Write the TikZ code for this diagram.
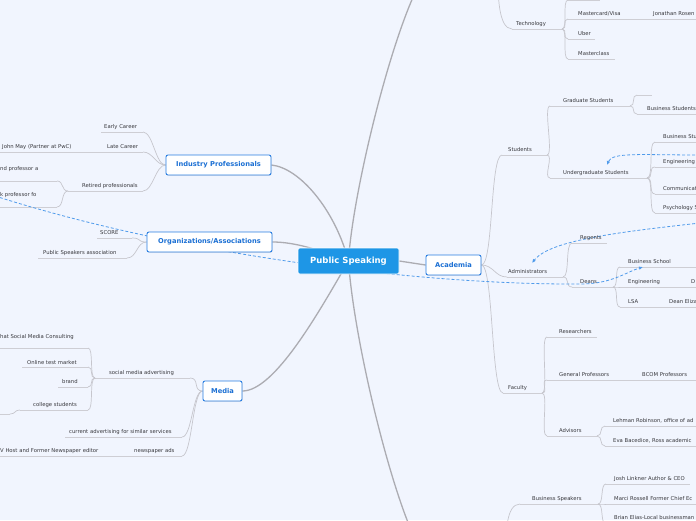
\documentclass[tikz,border=0pt]{standalone}
\usepackage{fontspec}
\setmainfont{DejaVu Sans}
\usetikzlibrary{arrows.meta,shadows}
\definecolor{bgc}{RGB}{241,245,254}
\definecolor{mainline}{RGB}{172,172,178}
\definecolor{subline}{RGB}{198,198,205}
\definecolor{leafline}{RGB}{206,206,212}
\definecolor{leaftext}{RGB}{55,55,60}
\definecolor{topicblue}{RGB}{28,112,212}
\definecolor{topicborder}{RGB}{40,125,225}
\definecolor{psblue}{RGB}{30,150,230}
\definecolor{dashblue}{RGB}{80,155,235}
\pgfdeclarelayer{back}
\pgfdeclarelayer{lines}
\pgfsetlayers{back,lines,main}
\tikzset{
  leaf/.style={anchor=base west, inner sep=0pt, text=leaftext, font=\fontsize{5.3}{6}\selectfont},
  topic/.style={draw=topicborder, fill=white, line width=0.9pt, rounded corners=2pt, text=topicblue,
    font=\fontsize{6.7}{8}\selectfont\bfseries, minimum height=20pt, inner sep=0pt,
    drop shadow={opacity=0.15, shadow xshift=0.6pt, shadow yshift=-0.8pt}},
  central/.style={draw=white, fill=psblue, line width=0.6pt, rounded corners=2pt, text=white,
    font=\fontsize{8.5}{10}\selectfont\bfseries, inner sep=0pt, minimum width=101pt, minimum height=26pt},
  ul/.style={draw=leafline, line width=0.6pt},
  br/.style={draw=subline, line width=0.7pt},
  trunk/.style={draw=mainline, line width=1.3pt},
  rel/.style={draw=dashblue, line width=0.8pt, dash pattern=on 3pt off 2pt, -{Latex[length=4pt,width=3.5pt]}},
}
% name, text x, baseline y, underline y, underline left, underline right, text
\newcommand\mmleaf[7]{%
  \node[leaf] (#1) at (#2,#3) {#7};
  \coordinate (#1-l) at (#5,#4);
  \coordinate (#1-r) at (#6,#4);}
\begin{document}
\begin{tikzpicture}[x=1pt,y=-1pt]
\useasboundingbox (0,0) rectangle (696,520);
\begin{pgfonlayer}{back}
  \fill[bgc] (0,0) rectangle (696,520);
\end{pgfonlayer}
\clip (0,0) rectangle (696,520);

% main topics
\node[central] (ps) at (348.5,261) {Public Speaking};
\node[topic, minimum width=55pt] (ac) at (453.5,265) {Academia};
\node[topic, minimum width=105pt] (ip) at (218.5,165) {Industry Professionals};
\node[topic, minimum width=125pt] (org) at (209.5,242) {Organizations/Associations};
\node[topic, minimum width=39pt] (med) at (222.5,391) {Media};

% right side leaves
\mmleaf{tech}{516}{25}{29}{512}{562}{Technology}
\coordinate (tz-l) at (568,0); \coordinate (tz-r) at (600,0);
\mmleaf{mc}{578}{15}{19}{568}{645}{Mastercard/Visa}
\mmleaf{jr}{653}{15}{19}{645}{700}{Jonathan Rosen}
\mmleaf{uber}{578}{35}{39}{568}{595}{Uber}
\mmleaf{mcl}{578}{55}{59}{568}{615}{Masterclass}
\mmleaf{stu}{508}{151}{155}{502}{547}{Students}
\mmleaf{gs}{563}{102}{106}{550}{630}{Graduate Students}
\coordinate (gsa-l) at (637,95); \coordinate (gsa-r) at (652,95);
\mmleaf{gsb}{647}{110}{114}{637}{700}{Business Students}
\mmleaf{ug}{563}{174}{178}{550}{647}{Undergraduate Students}
\mmleaf{uga}{663}{138}{142}{655}{700}{Business Stu}
\mmleaf{ugb}{663}{163}{167}{655}{700}{Engineering}
\mmleaf{ugc}{663}{190}{194}{655}{700}{Communicati}
\mmleaf{ugd}{663}{209}{213}{655}{700}{Psychology S}
\mmleaf{adm}{508}{273}{277}{507}{563}{Administrators}
\mmleaf{reg}{580}{239}{243}{572}{607}{Regents}
\mmleaf{dea}{580}{283}{287}{572}{613}{Deans}
\mmleaf{bsch}{628}{263}{267}{620}{700}{Business School}
\mmleaf{deng}{628}{283}{287}{620}{685}{Engineering}
\mmleaf{dd}{691}{283}{287}{685}{700}{D}
\mmleaf{lsa}{628}{303}{307}{620}{662}{LSA}
\mmleaf{de}{669}{303}{307}{662}{700}{Dean Eliza}
\mmleaf{fac}{508}{389}{393}{503}{542}{Faculty}
\mmleaf{res}{559}{333}{337}{547}{597}{Researchers}
\mmleaf{gp}{559}{376}{380}{547}{637}{General Professors}
\mmleaf{bcom}{642}{376}{380}{637}{700}{BCOM Professors}
\mmleaf{adv}{559}{432}{436}{547}{597}{Advisors}
\mmleaf{leh}{613}{422}{426}{605}{700}{Lehman Robinson, office of ad}
\mmleaf{eva}{613}{442}{446}{605}{700}{Eva Bacedice, Ross academic}
\mmleaf{bsp}{532}{500}{504}{520}{598}{Business Speakers}
\mmleaf{josh}{614}{480}{484}{606}{690}{Josh Linkner Author \& CEO}
\mmleaf{mar}{614}{500}{504}{606}{700}{Marci Rossell Former Chief Ec}
\mmleaf{bri}{614}{519}{524}{606}{700}{Brian Elias-Local businessman}

% left side leaves
\mmleaf{ec}{104}{128}{132}{101}{143}{Early Career}
\mmleaf{lc}{107}{148}{152}{78}{143}{Late Career}
\mmleaf{jm}{2}{148}{152}{-5}{78}{John May (Partner at PwC)}
\mmleaf{rp}{82}{187}{191}{68}{143}{Retired professionals}
\mmleaf{np}{0}{170}{181}{-5}{57}{nd professor a}
\mmleaf{kp}{0}{196}{207}{-5}{57}{k professor fo}
\mmleaf{sc}{100}{234}{238}{97}{132}{SCORE}
\mmleaf{psa}{43}{254}{258}{38}{127}{Public Speakers association}
\mmleaf{sma}{109}{374}{378}{95}{190}{social media advertising}
\mmleaf{cur}{69}{433}{437}{65}{182}{current advertising for similar services}
\mmleaf{nwa}{134}{452}{456}{103}{182}{newspaper ads}
\mmleaf{tvh}{0}{452}{456}{-5}{103}{V Host and Former Newspaper editor}
\mmleaf{hat}{0}{338}{348}{-5}{88}{hat Social Media Consulting}
\mmleaf{onl}{27}{364}{367}{22}{88}{Online test market}
\mmleaf{brd}{62}{383}{387}{58}{88}{brand}
\mmleaf{col}{33}{406}{410}{20}{88}{college students}
\coordinate (colc-l) at (-5,414); \coordinate (colc-r) at (10,414);

% off-picture ends
\coordinate (toptop) at (414,-5);
\coordinate (botbot) at (409,525);
\coordinate (techpar) at (498,-22);
\coordinate (bsppar) at (506,548);
\coordinate (kpsrc) at (-5,196);
\coordinate (dashmid) at (580,284);
\coordinate (bsch-in) at (643,267);
\coordinate (rsrc1) at (700,223);
\coordinate (adm-in) at (532,263);
\coordinate (rsrc2) at (700,155);
\coordinate (ug-in) at (607,165);

\begin{pgfonlayer}{lines}
  % underlines
  \foreach \n in {tech,tz,mc,jr,uber,mcl,stu,gs,gsa,gsb,ug,uga,ugb,ugc,ugd,adm,reg,dea,bsch,deng,dd,lsa,de,
                  fac,res,gp,bcom,adv,leh,eva,bsp,josh,mar,bri,
                  ec,lc,jm,rp,np,kp,sc,psa,sma,cur,nwa,tvh,hat,onl,brd,col,colc}
    \draw[ul] (\n-l) -- (\n-r);
  % trunks
  \draw[trunk] (ps.center) .. controls (352,200) and (385,60) .. (toptop);
  \draw[trunk] (ps.center) .. controls (353,330) and (383,460) .. (botbot);
  \draw[trunk] (ip.east) .. controls (300,168) and (335,210) .. (ps.center);
  \draw[trunk] (org.east) .. controls (295,242) and (320,250) .. (ps.center);
  \draw[trunk] (med.east) .. controls (275,391) and (320,310) .. (ps.center);
  \draw[trunk] (ps.east) -- (ac.west);
  % right branches
  \foreach \c in {stu,adm,fac}
    \draw[br] (ac.east) to[out=0,in=180,distance=12pt] (\c-l);
  \draw[br] (techpar) to[out=270,in=180,distance=14pt] (tech-l);
  \foreach \c in {tz,mc,uber,mcl}
    \draw[br] (tech-r) to[out=0,in=180,distance=6pt] (\c-l);
  \foreach \c in {gs,ug}
    \draw[br] (stu-r) to[out=0,in=180,distance=7pt] (\c-l);
  \foreach \c in {gsa,gsb}
    \draw[br] (gs-r) to[out=0,in=180,distance=6pt] (\c-l);
  \foreach \c in {uga,ugb,ugc,ugd}
    \draw[br] (ug-r) to[out=0,in=180,distance=7pt] (\c-l);
  \foreach \c in {reg,dea}
    \draw[br] (adm-r) to[out=0,in=180,distance=7pt] (\c-l);
  \foreach \c in {bsch,deng,lsa}
    \draw[br] (dea-r) to[out=0,in=180,distance=6pt] (\c-l);
  \foreach \c in {res,gp,adv}
    \draw[br] (fac-r) to[out=0,in=180,distance=7pt] (\c-l);
  \foreach \c in {leh,eva}
    \draw[br] (adv-r) to[out=0,in=180,distance=6pt] (\c-l);
  \draw[br] (bsppar) to[out=90,in=180,distance=14pt] (bsp-l);
  \foreach \c in {josh,mar,bri}
    \draw[br] (bsp-r) to[out=0,in=180,distance=6pt] (\c-l);
  % left branches
  \foreach \c in {ec,lc,rp}
    \draw[br] (ip.west) to[out=180,in=0,distance=10pt] (\c-r);
  \foreach \c in {np,kp}
    \draw[br] (rp-l) to[out=180,in=0,distance=7pt] (\c-r);
  \foreach \c in {sc,psa}
    \draw[br] (org.west) to[out=180,in=0,distance=10pt] (\c-r);
  \foreach \c in {sma,cur,nwa}
    \draw[br] (med.west) to[out=180,in=0,distance=10pt] (\c-r);
  \foreach \c in {hat,onl,brd,col}
    \draw[br] (sma-l) to[out=180,in=0,distance=6pt] (\c-r);
  \draw[br] (col-l) to[out=180,in=0,distance=6pt] (colc-r);
  % relationship arrows
  \draw[rel] (kpsrc) .. controls (180,255) and (420,285) .. (dashmid)
             .. controls (612,284) and (626,272) .. (bsch-in);
  \draw[rel] (rsrc1) .. controls (620,232) and (550,240) .. (adm-in);
  \draw[rel] (rsrc2) .. controls (640,155) and (612,152) .. (ug-in);
\end{pgfonlayer}
\end{tikzpicture}
\end{document}
